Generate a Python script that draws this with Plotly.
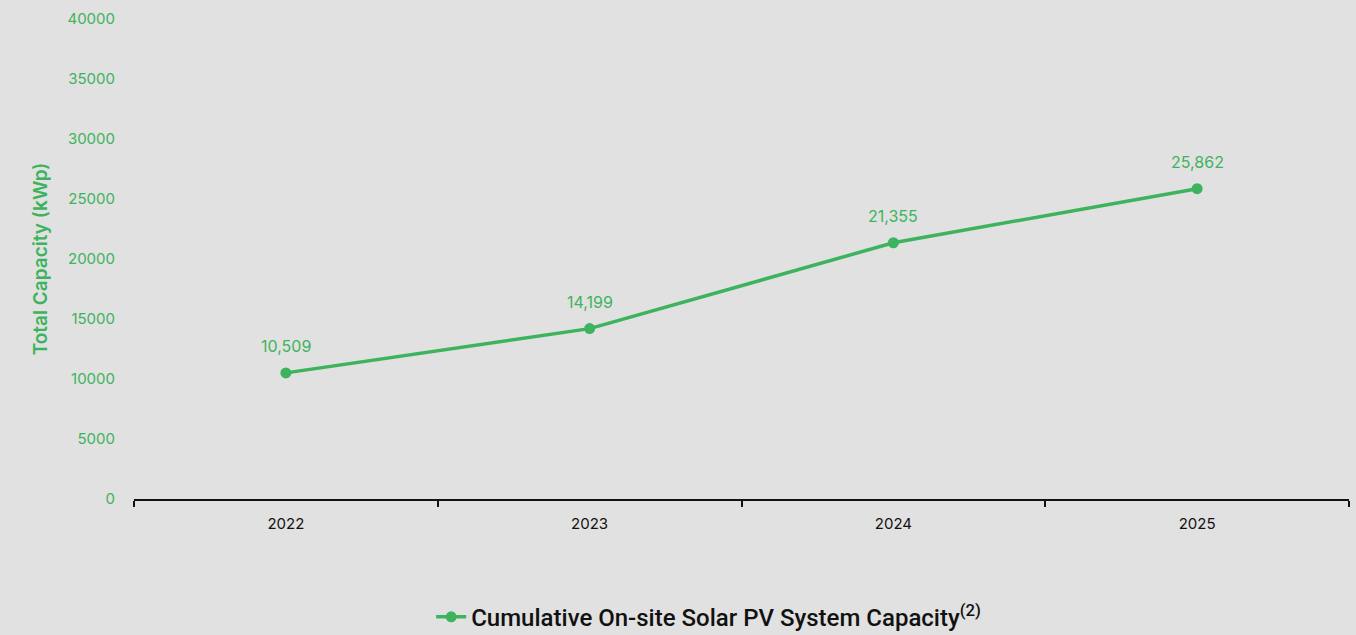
import plotly.graph_objects as go

years = ["2022", "2023", "2024", "2025"]
capacity = [10509, 14199, 21355, 25862]
labels = ["10,509", "14,199", "21,355", "25,862"]
series_name = "Cumulative On-site Solar PV System Capacity<sup>(2)</sup>"

GREEN = "#3db35d"
BG = "#e1e1e1"

fig = go.Figure()
fig.add_trace(go.Scatter(
    x=years, y=capacity, mode="lines+markers",
    name=series_name,
    line=dict(color=GREEN, width=3.5),
    marker=dict(color=GREEN, size=11),
    cliponaxis=False,
))

for i, (val, lab) in enumerate(zip(capacity, labels)):
    fig.add_annotation(x=i, y=val, xref="x", yref="y", text=lab, showarrow=False, yshift=27,
                       font=dict(color=GREEN, size=16, family="Inter"))

fig.update_layout(
    width=1356, height=635,
    paper_bgcolor=BG, plot_bgcolor=BG,
    margin=dict(l=134, r=7, t=19, b=136, autoexpand=False),
    showlegend=True,
    legend=dict(orientation="h", x=0.473, xanchor="center", yref="container", y=0.028, yanchor="middle",
                font=dict(family="Roboto", size=24, color="#111111", weight=500),
                bgcolor="rgba(0,0,0,0)"),
    font=dict(family="Inter"),
)
fig.update_xaxes(
    type="category", range=[-0.5, 3.5], automargin=False,
    showline=True, linecolor="#111111", linewidth=1.5,
    ticks="outside", tickson="boundaries", ticklen=6, tickcolor="#111111", tickwidth=1.5,
    showgrid=False, zeroline=False,
    ticklabelstandoff=10,
    tickfont=dict(color="#111111", size=15, family="Inter"),
)
fig.update_yaxes(
    range=[0, 40000], dtick=5000, showgrid=False, zeroline=False, showline=False,
    tickformat="d", automargin=False,
    tickfont=dict(color=GREEN, size=15, family="Inter"),
    ticklabelstandoff=18,
    title=dict(text="Total Capacity (kWp)", font=dict(color=GREEN, size=19, family="Inter", weight=600), standoff=14),
)

fig.write_html("out.html")
